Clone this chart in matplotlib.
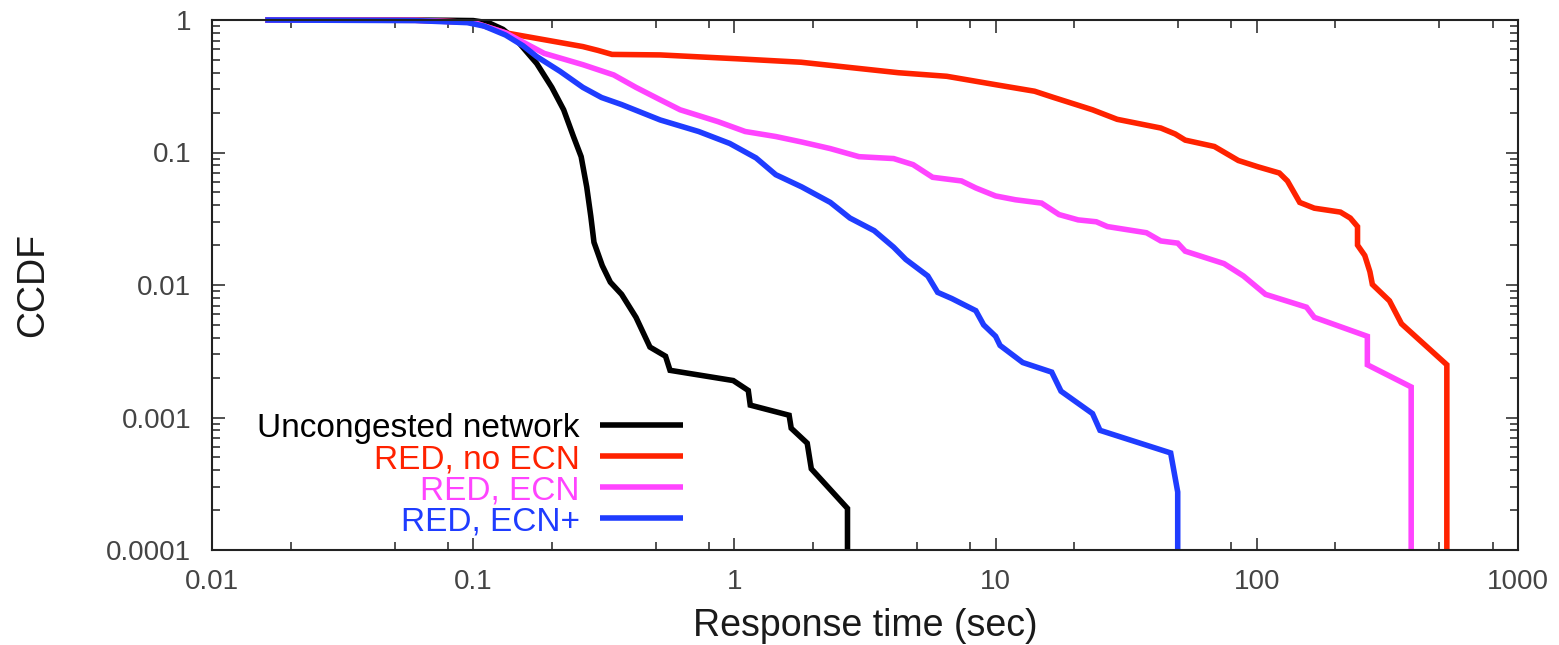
import matplotlib
matplotlib.use("Agg")
import matplotlib.pyplot as plt
from matplotlib.ticker import FixedLocator, FixedFormatter, LogLocator, NullFormatter

plt.rcParams['font.family'] = ['Liberation Sans', 'DejaVu Sans']

# response time (sec) / CCDF
unc_x = [0.016, 0.05, 0.08, 0.1, 0.115, 0.13, 0.148, 0.175, 0.2, 0.222, 0.242, 0.259, 0.272,
         0.282, 0.29, 0.312, 0.335, 0.37, 0.42, 0.475, 0.545, 0.567, 0.99, 1.13, 1.15, 1.62,
         1.65, 1.9, 1.97, 2.71, 2.71]
unc_y = [1.0, 1.0, 0.995, 0.99, 0.95, 0.85, 0.69, 0.47, 0.31, 0.21, 0.132, 0.093, 0.055,
         0.033, 0.021, 0.014, 0.0105, 0.0085, 0.0057, 0.0034, 0.0029, 0.00227, 0.0019, 0.0016,
         0.00124, 0.00104, 0.00083, 0.00064, 0.00041, 0.000206, 0.0001]

red_x = [0.016, 0.06, 0.1, 0.133, 0.187, 0.263, 0.30, 0.34, 0.52, 1.02, 1.8, 4.25, 6.5, 10,
         14.1, 16.7, 23.5, 29.2, 42.9, 48.7, 53.2, 68.8, 85, 101, 122, 131, 146, 166, 209,
         228, 243, 243, 259, 271, 277, 322, 358, 534, 534]
red_y = [1.0, 0.995, 0.96, 0.8, 0.71, 0.63, 0.59, 0.55, 0.545, 0.51, 0.48, 0.40, 0.376, 0.325,
         0.29, 0.26, 0.21, 0.178, 0.153, 0.138, 0.124, 0.111, 0.087, 0.078, 0.07, 0.061, 0.042,
         0.038, 0.0355, 0.032, 0.0276, 0.02, 0.0167, 0.0126, 0.0101, 0.0076, 0.0051, 0.0025,
         0.0001]

ecn_x = [0.016, 0.06, 0.1, 0.133, 0.187, 0.263, 0.345, 0.42, 0.52, 0.62, 0.865, 1.1, 1.44,
         1.81, 2.33, 3.0, 4.07, 4.83, 5.74, 7.4, 8.4, 10, 11.9, 15, 17.5, 20.7, 24.3, 26.8,
         37.8, 42.9, 49.8, 53.2, 74.9, 88.9, 108, 155, 166, 265, 265, 390, 390]
ecn_y = [1.0, 0.995, 0.96, 0.8, 0.56, 0.46, 0.385, 0.31, 0.25, 0.21, 0.171, 0.144, 0.132,
         0.12, 0.107, 0.093, 0.09, 0.081, 0.065, 0.061, 0.054, 0.047, 0.044, 0.0415, 0.034,
         0.031, 0.030, 0.0276, 0.0248, 0.0215, 0.0207, 0.018, 0.0145, 0.0117, 0.0085, 0.0068,
         0.0057, 0.0041, 0.0025, 0.0017, 0.0001]

ecnp_x = [0.016, 0.06, 0.095, 0.11, 0.133, 0.155, 0.175, 0.215, 0.263, 0.31, 0.37, 0.52,
          0.73, 0.96, 1.21, 1.44, 1.81, 2.33, 2.77, 3.43, 4.07, 4.53, 5.5, 6.0, 6.8, 8.4, 9.0,
          10, 10.4, 12.7, 16.4, 17.8, 23.5, 25.1, 46.8, 49.8, 49.8]
ecnp_y = [1.0, 0.99, 0.955, 0.9, 0.77, 0.64, 0.53, 0.41, 0.31, 0.26, 0.23, 0.176, 0.144,
          0.117, 0.091, 0.068, 0.055, 0.042, 0.032, 0.0257, 0.0193, 0.0156, 0.0117, 0.0088,
          0.0079, 0.0064, 0.0050, 0.0041, 0.0035, 0.0026, 0.0022, 0.00158, 0.00107, 0.0008,
          0.00054, 0.000274, 0.0001]

labels = ['Uncongested network', 'RED, no ECN', 'RED, ECN', 'RED, ECN+']
colors = ['#000000', '#ff2200', '#ff44ff', '#1f3cff']

x_ticks = [0.01, 0.1, 1, 10, 100, 1000]
x_ticklabels = ['0.01', '0.1', '1', '10', '100', '1000']
y_ticks = [0.0001, 0.001, 0.01, 0.1, 1]
y_ticklabels = ['0.0001', '0.001', '0.01', '0.1', '1']

fig = plt.figure(figsize=(15.59, 6.45), dpi=100)
ax = fig.add_axes([212 / 1559, 1 - 550 / 645, 1306 / 1559, 530 / 645])

series = [(unc_x, unc_y), (red_x, red_y), (ecn_x, ecn_y), (ecnp_x, ecnp_y)]
for (xs, ys), lab, col in zip(series, labels, colors):
    ax.plot(xs, ys, color=col, lw=4, label=lab, clip_on=False,
            solid_capstyle='butt', solid_joinstyle='miter')

ax.set_xscale('log')
ax.set_yscale('log')
ax.set_xlim(0.01, 1000)
ax.set_ylim(0.0001, 1)

ax.xaxis.set_major_locator(FixedLocator(x_ticks))
ax.xaxis.set_major_formatter(FixedFormatter(x_ticklabels))
ax.xaxis.set_minor_locator(LogLocator(base=10, subs=[2, 5, 8]))
ax.xaxis.set_minor_formatter(NullFormatter())
ax.yaxis.set_major_locator(FixedLocator(y_ticks))
ax.yaxis.set_major_formatter(FixedFormatter(y_ticklabels))
ax.yaxis.set_minor_locator(LogLocator(base=10, subs=range(2, 10)))
ax.yaxis.set_minor_formatter(NullFormatter())

ax.tick_params(which='both', direction='in', top=True, right=True, width=1.1, color='#222222')
ax.tick_params(which='major', length=9)
ax.tick_params(which='minor', length=5.5)
ax.tick_params(axis='x', which='major', pad=14, labelsize=20, labelcolor='#444444')
ax.tick_params(axis='y', which='major', pad=15, labelsize=20, labelcolor='#444444')
for sp in ax.spines.values():
    sp.set_linewidth(1.5)
    sp.set_color('#222222')

ax.set_xlabel('Response time (sec)', fontsize=27, color='#1a1a1a')
ax.set_ylabel('CCDF', fontsize=27, color='#1a1a1a')
ax.xaxis.set_label_coords(0.5, -0.11)
ax.yaxis.set_label_coords(-0.123, 0.5)

ax.legend(loc='center right', bbox_to_anchor=(0.3607, 0.1415), frameon=False,
          markerfirst=False, labelcolor='linecolor', fontsize=24, handlelength=2.5,
          handletextpad=0.6, labelspacing=0.0, borderpad=0, borderaxespad=0)

fig.savefig('out.png', dpi=100, facecolor='white')
